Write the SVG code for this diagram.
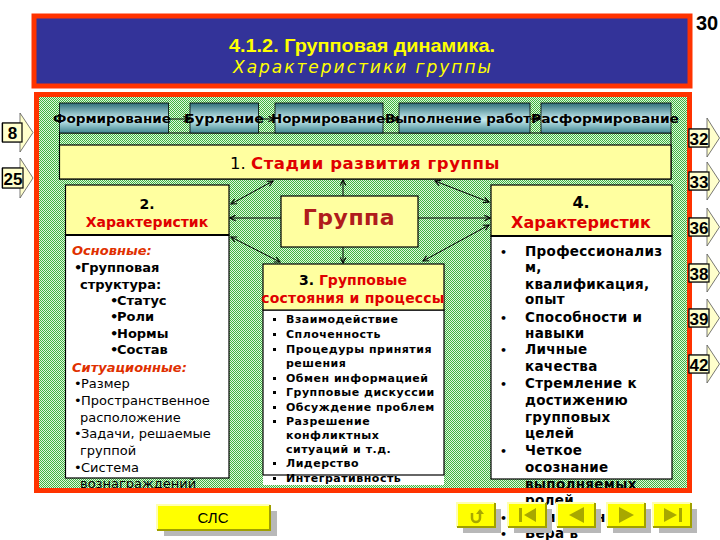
<svg xmlns="http://www.w3.org/2000/svg" width="720" height="540" viewBox="0 0 720 540">
<defs>
<style>
.t{font-family:"DejaVu Sans","Noto Sans",sans-serif}
.b{font-weight:bold}
.red{fill:#e00000}
.blk{fill:#000}
.yel{fill:#ffffa0;stroke:#000;stroke-width:1.2}
.wht{fill:#fff;stroke:#000;stroke-width:1.2}
.lbl{font-family:"DejaVu Sans",sans-serif;font-weight:bold;font-size:13px;fill:#000;text-anchor:middle}
.lt{font-family:"DejaVu Sans",sans-serif;font-size:13px;fill:#000}
.ct{font-family:"DejaVu Sans",sans-serif;font-size:11px;font-weight:bold;letter-spacing:0.5px;fill:#000}
.rt{font-family:"DejaVu Sans",sans-serif;font-size:13.5px;font-weight:bold;letter-spacing:0.3px;fill:#000}
.sq{fill:#000}
.bul{font-size:11px}
.conn{stroke:#000;stroke-width:1;fill:none}
.num{font-family:"Liberation Sans",Arial,sans-serif;font-weight:bold;font-size:17px;fill:#000;text-anchor:middle}
.sa{fill:#ffffcc;stroke:#555;stroke-width:0.8}
.sb{fill:#ffffcc;stroke:#000;stroke-width:1.2}
.btn{fill:#ffff00}
.shd{fill:#b8b8b8}
.ic{fill:#a8a800}
</style>
<pattern id="grn" width="2" height="2" patternUnits="userSpaceOnUse">
<rect width="2" height="2" fill="#e0f6e0"/>
<rect width="1" height="1" fill="#3fb43f"/>
<rect x="1" y="1" width="1" height="1" fill="#3fb43f"/>
</pattern>
<linearGradient id="stg" x1="0" y1="0" x2="0" y2="1">
<stop offset="0" stop-color="#2f6f7a"/>
<stop offset="0.55" stop-color="#c9eef2"/>
<stop offset="1" stop-color="#3f8590"/>
</linearGradient>
<marker id="ah" viewBox="0 0 10 10" refX="9" refY="5" markerWidth="7" markerHeight="7" orient="auto-start-reverse" markerUnits="userSpaceOnUse">
<path d="M1,1 L9,5 L1,9" fill="none" stroke="#000" stroke-width="1.6"/>
</marker>
</defs>
<rect width="720" height="540" fill="#fff"/>

<g id="header">
<rect x="34" y="16" width="656" height="70" fill="#333399" stroke="#ff3300" stroke-width="5"/>
<text x="362" y="52" text-anchor="middle" font-family="Liberation Sans,Arial,sans-serif" font-weight="bold" font-size="19" fill="#ffff00" textLength="266" lengthAdjust="spacingAndGlyphs">4.1.2. Групповая динамика.</text>
<text x="362" y="73" text-anchor="middle" class="t" font-style="italic" font-size="17" fill="#ffff00" textLength="258" lengthAdjust="spacing">Характеристики группы</text>
</g>
<text id="page" x="707" y="30" text-anchor="middle" font-family="Liberation Sans,Arial,sans-serif" font-weight="bold" font-size="20" fill="#000">30</text>

<rect id="panel" x="36" y="94" width="654" height="398" fill="url(#grn)"/>

<g id="stages">
<rect x="59.5" y="133" width="611.5" height="46" fill="none" stroke="#000" stroke-width="1"/>
<rect id="stage-box" x="59.5" y="145" width="611.5" height="34" class="yel"/>
<text x="365" y="169" text-anchor="middle" class="t" font-size="16.5"><tspan class="blk">1.</tspan> <tspan class="red b" letter-spacing="0.6">Стадии развития группы</tspan></text>
<g id="stage-1"><rect x="59.5" y="103" width="109" height="30" fill="url(#stg)" stroke="#000" stroke-width="0.8"/><text x="112" y="123" class="lbl" textLength="118" lengthAdjust="spacingAndGlyphs">Формирование</text></g>
<g id="stage-2"><rect x="190" y="103" width="68.5" height="30" fill="url(#stg)" stroke="#000" stroke-width="0.8"/><text x="224" y="123" class="lbl" textLength="80" lengthAdjust="spacingAndGlyphs">Бурление</text></g>
<g id="stage-3"><rect x="275" y="103" width="108" height="30" fill="url(#stg)" stroke="#000" stroke-width="0.8"/><text x="328" y="123" class="lbl" textLength="114" lengthAdjust="spacingAndGlyphs">Нормирование</text></g>
<g id="stage-4"><rect x="399" y="103" width="131" height="30" fill="url(#stg)" stroke="#000" stroke-width="0.8"/><text x="458" y="123" class="lbl" textLength="146" lengthAdjust="spacingAndGlyphs">Выполнение работ</text></g>
<g id="stage-5"><rect x="541" y="103" width="130" height="30" fill="url(#stg)" stroke="#000" stroke-width="0.8"/><text x="605" y="123" class="lbl" textLength="148" lengthAdjust="spacingAndGlyphs">Расформирование</text></g>
</g>

<g id="left-box">
<rect x="65.5" y="185" width="163.5" height="50" class="yel"/>
<rect x="65.5" y="235" width="163.5" height="243" class="wht"/>
<line x1="65.5" y1="235" x2="229" y2="235" stroke="#000" stroke-width="2"/>
<text x="147" y="209" text-anchor="middle" class="t b" font-size="14">2.</text>
<text x="147" y="227" text-anchor="middle" class="t b red" font-size="14">Характеристик</text>
<g class="lt">
<text x="72" y="254.5" font-weight="bold" font-style="italic" fill="#e03000">Основные:</text>
<text x="74" y="271.5" font-weight="bold">•</text><text x="81" y="271.5" font-weight="bold">Групповая</text>
<text x="80" y="288.5" font-weight="bold">структура:</text>
<text x="110" y="304.5" font-weight="bold">•</text><text x="117" y="304.5" font-weight="bold">Статус</text>
<text x="110" y="321" font-weight="bold">•</text><text x="117" y="321" font-weight="bold">Роли</text>
<text x="110" y="337.5" font-weight="bold">•</text><text x="117" y="337.5" font-weight="bold">Нормы</text>
<text x="110" y="354" font-weight="bold">•</text><text x="117" y="354" font-weight="bold">Состав</text>
<text x="72" y="371.5" font-weight="bold" font-style="italic" fill="#e03000">Ситуационные:</text>
<text x="74" y="387.5">•</text><text x="81" y="387.5">Размер</text>
<text x="74" y="404.5">•</text><text x="81" y="404.5">Пространственное</text>
<text x="80" y="421.5">расположение</text>
<text x="74" y="438">•</text><text x="81" y="438">Задачи, решаемые</text>
<text x="80" y="455">группой</text>
<text x="74" y="471.5">•</text><text x="81" y="471.5">Система</text>
<text x="80" y="488">вознаграждений</text>
</g>
</g>

<g id="group-box">
<rect x="281" y="196" width="137" height="51" class="yel"/>
<text x="349" y="225" text-anchor="middle" class="t b" font-size="22" fill="#b01c1c" letter-spacing="0.5">Группа</text>
</g>

<g id="center-box">
<rect x="263" y="310" width="181" height="175" fill="#fff"/>
<rect x="263" y="310" width="181" height="165" class="wht"/>
<rect x="263" y="264" width="181" height="46" class="yel"/>
<text x="353" y="285" text-anchor="middle" class="t b" font-size="14"><tspan class="blk">3.</tspan> <tspan class="red">Групповые</tspan></text>
<text x="353" y="303" text-anchor="middle" class="t b red" font-size="14" letter-spacing="0.2">состояния и процессы</text>
<g class="sq">
<rect x="273" y="318" width="3" height="3"/>
<rect x="273" y="333" width="3" height="3"/>
<rect x="273" y="348" width="3" height="3"/>
<rect x="273" y="377" width="3" height="3"/>
<rect x="273" y="391" width="3" height="3"/>
<rect x="273" y="406" width="3" height="3"/>
<rect x="273" y="420" width="3" height="3"/>
<rect x="273" y="462" width="3" height="3"/>
<rect x="273" y="477" width="3" height="3"/>
</g>
<g class="ct">
<text x="286" y="323">Взаимодействие</text>
<text x="286" y="338">Сплоченность</text>
<text x="286" y="353">Процедуры принятия</text>
<text x="286" y="367">решения</text>
<text x="286" y="382">Обмен информацией</text>
<text x="286" y="396">Групповые дискуссии</text>
<text x="286" y="411">Обсуждение проблем</text>
<text x="286" y="425">Разрешение</text>
<text x="286" y="439">конфликтных</text>
<text x="286" y="453">ситуаций и т.д.</text>
<text x="286" y="467">Лидерство</text>
<text x="286" y="482">Интегративность</text>
</g>
</g>

<g id="right-box">
<rect x="491" y="185" width="181" height="51" class="yel"/>
<rect x="491" y="236" width="181" height="243" class="wht"/>
<line x1="491" y1="236" x2="672" y2="236" stroke="#000" stroke-width="2"/>
<text x="581" y="208" text-anchor="middle" class="t b" font-size="16">4.</text>
<text x="581" y="228" text-anchor="middle" class="t b red" font-size="16">Характеристик</text>
<g class="rt">
<text x="500" y="256" class="bul">•</text><text x="525" y="256">Профессионализ</text>
<text x="525" y="272">м,</text>
<text x="525" y="289">квалификация,</text>
<text x="525" y="304">опыт</text>
<text x="500" y="322" class="bul">•</text><text x="525" y="322">Способности и</text>
<text x="525" y="338">навыки</text>
<text x="500" y="354" class="bul">•</text><text x="525" y="354">Личные</text>
<text x="525" y="371">качества</text>
<text x="500" y="388" class="bul">•</text><text x="525" y="388">Стремление к</text>
<text x="525" y="405">достижению</text>
<text x="525" y="422">групповых</text>
<text x="525" y="438">целей</text>
<text x="500" y="455" class="bul">•</text><text x="525" y="455">Четкое</text>
<text x="525" y="472">осознание</text>
<text x="525" y="489">выполняемых</text>
<text x="525" y="505">ролей</text>
<text x="500" y="522" class="bul">•</text><text x="525" y="522">Самомнение</text>
<text x="500" y="538" class="bul">•</text><text x="525" y="538">Вера в</text>
</g>
</g>

<g id="connectors" class="conn">
<line x1="168.5" y1="119" x2="189" y2="119" marker-end="url(#ah)"/>
<line x1="258.5" y1="119" x2="274" y2="119" marker-end="url(#ah)"/>
<line x1="383" y1="119" x2="398" y2="119" marker-end="url(#ah)"/>
<line x1="530" y1="119" x2="540" y2="119" marker-end="url(#ah)"/>
<line x1="343" y1="196" x2="343" y2="180" marker-end="url(#ah)"/>
<line x1="343" y1="247" x2="343" y2="263" marker-end="url(#ah)"/>
<line x1="281" y1="218" x2="230" y2="218" marker-end="url(#ah)"/>
<line x1="418" y1="218" x2="490" y2="218" marker-end="url(#ah)"/>
<line x1="231" y1="204" x2="273" y2="181" marker-start="url(#ah)" marker-end="url(#ah)"/>
<line x1="231" y1="237" x2="280" y2="262" marker-start="url(#ah)" marker-end="url(#ah)"/>
<line x1="435" y1="181" x2="489" y2="202" marker-start="url(#ah)" marker-end="url(#ah)"/>
<line x1="489" y1="225" x2="423" y2="261" marker-start="url(#ah)" marker-end="url(#ah)"/>
</g>

<rect id="frame" x="36.5" y="94.5" width="653" height="396" fill="none" stroke="#ff3300" stroke-width="5"/>

<g id="link-8"><polygon class="sa" points="2,123 20,123 20,113 33,132.5 20,152 20,142 2,142"/><rect class="sb" x="2.5" y="123" width="19.5" height="19"/><text class="num" x="12.5" y="139">8</text></g>
<g id="link-25"><polygon class="sa" points="2,168 20,168 20,158 33,178 20,198 20,188 2,188"/><rect class="sb" x="2.5" y="168" width="20.5" height="20"/><text class="num" x="13" y="184.5">25</text></g>

<g id="link-32"><polygon class="sa" points="689,129 707,129 707,118 719.5,138 707,157 707,147 689,147"/><rect class="sb" x="689" y="129" width="20" height="18"/><text class="num" x="699" y="144.5">32</text></g>
<g id="link-33"><polygon class="sa" points="689,172 707,172 707,162 719.5,181 707,200 707,190 689,190"/><rect class="sb" x="689" y="172" width="20" height="18"/><text class="num" x="699" y="187.5">33</text></g>
<g id="link-36"><polygon class="sa" points="689,218 707,218 707,208 719.5,227 707,246 707,236 689,236"/><rect class="sb" x="689" y="218" width="20" height="18"/><text class="num" x="699" y="233.5">36</text></g>
<g id="link-38"><polygon class="sa" points="689,264 707,264 707,254 719.5,273 707,292 707,282 689,282"/><rect class="sb" x="689" y="264" width="20" height="18"/><text class="num" x="699" y="279.5">38</text></g>
<g id="link-39"><polygon class="sa" points="689,309 707,309 707,299 719.5,318 707,337 707,327 689,327"/><rect class="sb" x="689" y="309" width="20" height="18"/><text class="num" x="699" y="324.5">39</text></g>
<g id="link-42"><polygon class="sa" points="689,355 707,355 707,345 719.5,364 707,383 707,373 689,373"/><rect class="sb" x="689" y="355" width="20" height="18"/><text class="num" x="699" y="370.5">42</text></g>

<g id="btn-slc">
<rect class="shd" x="164" y="511" width="113" height="25"/>
<rect class="btn" x="157" y="505" width="113" height="25"/>
<path d="M157,530 V505 H270" fill="none" stroke="#ffffb0" stroke-width="2"/>
<path d="M157,530 H270 V505" fill="none" stroke="#a0a000" stroke-width="2"/>
<text x="213" y="523" text-anchor="middle" font-family="Liberation Sans,Arial,sans-serif" font-size="15" fill="#000">СЛС</text>
</g>

<g id="nav-return">
<rect class="shd" x="463" y="509" width="38" height="24"/>
<rect class="btn" x="457" y="503" width="38" height="24"/>
<path d="M457,527 V503 H495" fill="none" stroke="#ffffb0" stroke-width="2"/>
<path d="M457,527 H495 V503" fill="none" stroke="#a0a000" stroke-width="2"/>
<path d="M472,513 V518 A4,4 0 0 0 480,518 V514" fill="none" stroke="#a8a800" stroke-width="2.5"/>
<polygon class="ic" points="476,514 484,514 480,509"/>
</g>
<g id="nav-first">
<rect class="shd" x="514" y="509" width="38" height="24"/>
<rect class="btn" x="508" y="503" width="38" height="24"/>
<path d="M508,527 V503 H546" fill="none" stroke="#ffffb0" stroke-width="2"/>
<path d="M508,527 H546 V503" fill="none" stroke="#a0a000" stroke-width="2"/>
<rect class="ic" x="519" y="508" width="3" height="14"/>
<polygon class="ic" points="536,508 536,522 524,515"/>
</g>
<g id="nav-prev">
<rect class="shd" x="563" y="509" width="38" height="24"/>
<rect class="btn" x="557" y="503" width="38" height="24"/>
<path d="M557,527 V503 H595" fill="none" stroke="#ffffb0" stroke-width="2"/>
<path d="M557,527 H595 V503" fill="none" stroke="#a0a000" stroke-width="2"/>
<polygon class="ic" points="584,507 584,523 569,515"/>
</g>
<g id="nav-next">
<rect class="shd" x="613" y="509" width="38" height="24"/>
<rect class="btn" x="607" y="503" width="38" height="24"/>
<path d="M607,527 V503 H645" fill="none" stroke="#ffffb0" stroke-width="2"/>
<path d="M607,527 H645 V503" fill="none" stroke="#a0a000" stroke-width="2"/>
<polygon class="ic" points="619,507 619,523 634,515"/>
</g>
<g id="nav-last">
<rect class="shd" x="659" y="509" width="38" height="24"/>
<rect class="btn" x="653" y="503" width="38" height="24"/>
<path d="M653,527 V503 H691" fill="none" stroke="#ffffb0" stroke-width="2"/>
<path d="M653,527 H691 V503" fill="none" stroke="#a0a000" stroke-width="2"/>
<polygon class="ic" points="664,508 664,522 677,515"/>
<rect class="ic" x="679" y="508" width="3" height="14"/>
</g>
</svg>
